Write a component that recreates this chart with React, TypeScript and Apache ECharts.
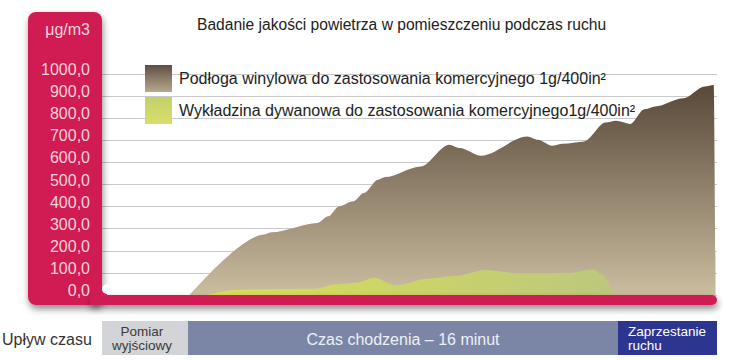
import React, { useEffect, useRef } from "react";
import * as echarts from "echarts";

const titleText = "Badanie jakości powietrza w pomieszczeniu podczas ruchu";
const unitLabel = "μg/m3";
const vinylName = "Podłoga winylowa do zastosowania komercyjnego 1g/400in²";
const carpetName = "Wykładzina dywanowa do zastosowania komercyjnego1g/400in²";

// time in minutes from the start of walking
const vinylTime = [0.07, 2.84, 3.1, 4.81, 5.2, 5.6, 6.13, 6.52, 7.05, 7.31, 8.63, 9.68, 10.07, 10.86, 12.57, 12.97, 13.49, 13.89, 14.68, 15.47, 15.86, 16.39, 16.91, 17.31, 18.36, 19.15, 19.48, 19.55];
const vinylValue = [0, 274, 284, 326, 356, 401, 424, 462, 522, 534, 582, 680, 665, 630, 717, 702, 675, 684, 695, 780, 788, 774, 840, 853, 890, 943, 950, 0];

const carpetTime = [0.67, 1.65, 2.31, 4.68, 5.47, 6.26, 6.91, 7.7, 8.89, 9.94, 11.0, 12.31, 14.15, 15.01, 15.34, 15.79];
const carpetValue = [0, 22, 25, 28, 48, 55, 78, 44, 74, 86, 113, 98, 100, 116, 93, 0];

const yTicks = { min: 0, max: 1000, interval: 100 };

const phaseLead = "Upływ czasu";
const phaseBaseline = ["Pomiar", "wyjściowy"];
const phaseWalking = "Czas chodzenia – 16 minut";
const phaseStop = ["Zaprzestanie", "ruchu"];

const FONT = "'Liberation Sans', Arial, Helvetica, sans-serif";
const RED = "#d01f52";

export default function App() {
  const ref = useRef<HTMLDivElement>(null);
  useEffect(() => {
    document.body.style.margin = "0";
    if (!ref.current) return;
    const chart = echarts.init(ref.current, null, { renderer: "svg" });
    const brownGrad = new echarts.graphic.LinearGradient(0, 0, 0, 1, [
      { offset: 0, color: "#574839" },
      { offset: 1, color: "#cbbd9f" },
    ]);
    const greenGrad = new echarts.graphic.LinearGradient(0, 0, 1, 0, [
      { offset: 0, color: "#d9e055" },
      { offset: 1, color: "#bdc77d" },
    ]);
    const legendBrown = new echarts.graphic.LinearGradient(0, 0, 0, 1, [
      { offset: 0, color: "#5e4e42" },
      { offset: 1, color: "#b9a88c" },
    ]);
    const legendGreen = new echarts.graphic.LinearGradient(0, 0, 0, 1, [
      { offset: 0, color: "#c3d06a" },
      { offset: 1, color: "#d8e06a" },
    ]);
    const shadow = {
      shadowBlur: 7,
      shadowColor: "rgba(0,0,0,0.45)",
      shadowOffsetX: 1,
      shadowOffsetY: 4,
    };
    const txt = (text: string, x: number, y: number, size: number, fill: string, align = "left") => ({
      type: "text",
      z: 6,
      style: {
        text,
        x,
        y,
        fill,
        fontSize: size,
        fontFamily: FONT,
        align,
        textAlign: align,
        verticalAlign: "middle",
        textVerticalAlign: "middle",
      },
    });
    chart.setOption({
      animation: false,
      textStyle: { fontFamily: FONT },
      title: {
        text: titleText,
        left: 197,
        top: 16,
        padding: 0,
        textStyle: { fontSize: 15.6, fontWeight: "normal", color: "#222", fontFamily: FONT },
      },
      legend: {
        orient: "vertical",
        left: 145,
        top: 65,
        padding: 0,
        itemWidth: 27,
        itemHeight: 27,
        itemGap: 5,
        icon: "rect",
        selectedMode: false,
        textStyle: { fontSize: 16, color: "#222", fontFamily: FONT, padding: [2, 0, 0, 2] },
        data: [
          { name: vinylName, itemStyle: { color: legendBrown } },
          { name: carpetName, itemStyle: { color: legendGreen } },
        ],
      },
      grid: { left: 100, right: 20, top: 74, bottom: 65 },
      xAxis: {
        type: "value",
        min: -3.25,
        max: 19.6,
        show: false,
        splitLine: { show: false },
      },
      yAxis: [
        {
          type: "value",
          ...yTicks,
          z: 0,
          axisLine: { show: false },
          axisTick: { show: false },
          axisLabel: { show: false },
          splitLine: { show: true, lineStyle: { color: "#c9c9c9", width: 1 } },
        },
        {
          type: "value",
          ...yTicks,
          position: "left",
          z: 10,
          name: unitLabel,
          nameLocation: "end",
          nameGap: 45,
          nameTextStyle: {
            color: "#f7d3dc",
            fontSize: 16,
            fontFamily: FONT,
            align: "right",
            verticalAlign: "middle",
            padding: [0, 10, 0, 0],
          },
          axisLine: { show: false },
          axisTick: { show: false },
          splitLine: { show: false },
          axisLabel: {
            color: "#f7d3dc",
            fontSize: 16,
            fontFamily: FONT,
            margin: 10,
            verticalAlign: "bottom",
            lineHeight: 9,
            formatter: (v: number) => v.toFixed(1).replace(".", ","),
          },
        },
      ],
      series: [
        {
          name: vinylName,
          type: "line",
          yAxisIndex: 0,
          z: 2,
          smooth: 0.3,
          smoothMonotone: "x",
          showSymbol: false,
          symbol: "none",
          lineStyle: { width: 0 },
          itemStyle: { color: "#6b5a4c" },
          areaStyle: { color: brownGrad, opacity: 1 },
          data: vinylTime.map((t, i) => [t, vinylValue[i]]),
        },
        {
          name: carpetName,
          type: "line",
          yAxisIndex: 0,
          z: 3,
          smooth: 0.3,
          smoothMonotone: "x",
          showSymbol: false,
          symbol: "none",
          lineStyle: { width: 0 },
          itemStyle: { color: "#cdd660" },
          areaStyle: { color: greenGrad, opacity: 1 },
          data: carpetTime.map((t, i) => [t, carpetValue[i]]),
        },
      ],
      graphic: [
        {
          type: "rect",
          z: 5,
          shape: { x: 28, y: 12, width: 74, height: 293, r: 8 },
          style: { fill: RED, ...shadow },
        },
        {
          type: "rect",
          z: 5,
          shape: { x: 90, y: 295, width: 627, height: 10, r: [0, 5, 5, 0] },
          style: { fill: RED, ...shadow },
        },
        {
          type: "rect",
          z: 5,
          shape: { x: 101, y: 289, width: 6, height: 7 },
          style: { fill: RED },
        },
        {
          type: "circle",
          z: 6,
          shape: { cx: 107, cy: 289, r: 5 },
          style: { fill: "#ffffff" },
        },
        {
          type: "rect",
          z: 5,
          shape: { x: 102, y: 321, width: 86, height: 34 },
          style: { fill: "#d3d4d7" },
        },
        {
          type: "rect",
          z: 5,
          shape: { x: 188, y: 321, width: 430, height: 34 },
          style: { fill: "#7b86a7" },
        },
        {
          type: "rect",
          z: 5,
          shape: { x: 618, y: 321, width: 99, height: 34 },
          style: { fill: "#2c3690" },
        },
        txt(phaseLead, 2, 339, 16, "#333333"),
        txt(phaseBaseline[0], 142, 331, 13.5, "#3a3a3a", "center"),
        txt(phaseBaseline[1], 142, 345, 13.5, "#3a3a3a", "center"),
        txt(phaseWalking, 403, 339, 16, "#eef0f6", "center"),
        txt(phaseStop[0], 628, 331, 13.5, "#ffffff"),
        txt(phaseStop[1], 628, 345, 13.5, "#ffffff"),
      ],
    });
    return () => chart.dispose();
  }, []);
  return <div ref={ref} style={{ width: 737, height: 360 }} />;
}
